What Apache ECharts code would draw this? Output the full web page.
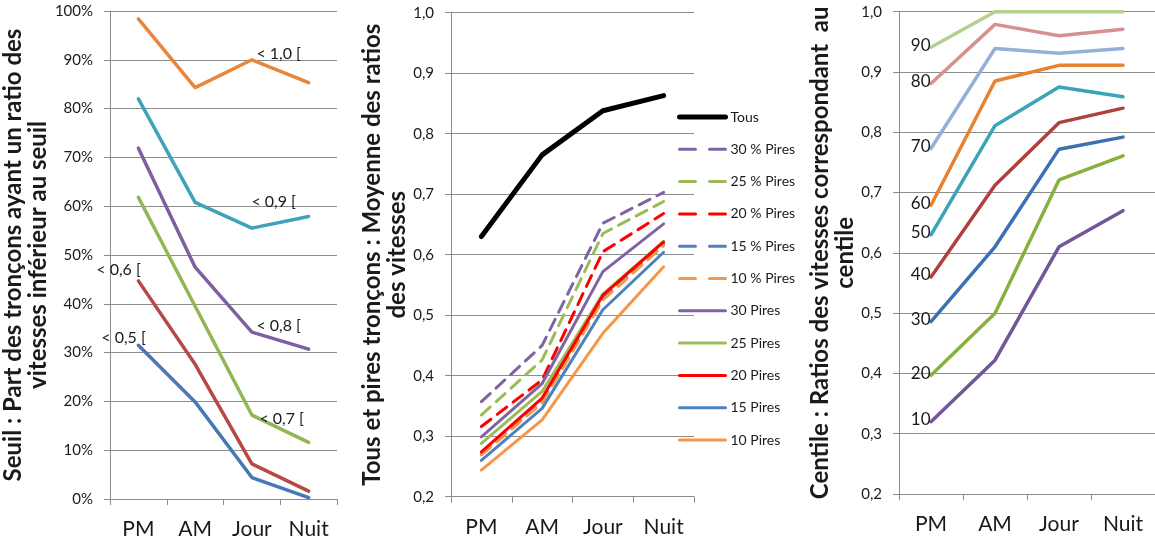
<!DOCTYPE html>
<html>
<head>
<meta charset="utf-8">
<script src="https://cdn.jsdelivr.net/npm/echarts@6/dist/echarts.min.js"></script>
<style>
  html, body { margin: 0; background: #fff; }
  #chart { width: 1155px; height: 543px; }
</style>
</head>
<body>
<div id="chart"></div>
<script>
const periods = ['PM', 'AM', 'Jour', 'Nuit']

// gauche : part des tronçons sous le seuil (%)
const seuil10 = [98.4, 84.3, 90.0, 85.3]
const seuil09 = [82.0, 60.8, 55.5, 57.9]
const seuil08 = [71.9, 47.5, 34.2, 30.7]
const seuil07 = [61.8, 39.5, 17.2, 11.6]
const seuil06 = [44.7, 27.6, 7.2, 1.6]
const seuil05 = [31.5, 19.9, 4.4, 0.3]

// milieu : moyenne des ratios, tous et pires tronçons
const tous = [0.630, 0.765, 0.838, 0.863]
const pct30 = [0.357, 0.450, 0.652, 0.703]
const pct25 = [0.335, 0.426, 0.635, 0.688]
const pct20 = [0.316, 0.393, 0.605, 0.668]
const pct15 = [0.270, 0.358, 0.528, 0.618]
const pct10 = [0.269, 0.355, 0.525, 0.615]
const pires30 = [0.299, 0.387, 0.572, 0.651]
const pires25 = [0.288, 0.374, 0.535, 0.622]
const pires20 = [0.274, 0.363, 0.533, 0.621]
const pires15 = [0.260, 0.346, 0.509, 0.604]
const pires10 = [0.244, 0.327, 0.470, 0.580]

// droite : ratio correspondant au centile
const c90 = [0.941, 1.0, 1.0, 1.0]
const c80 = [0.881, 0.979, 0.960, 0.971]
const c70 = [0.773, 0.939, 0.931, 0.939]
const c60 = [0.679, 0.885, 0.911, 0.911]
const c50 = [0.630, 0.811, 0.875, 0.859]
const c40 = [0.560, 0.712, 0.816, 0.840]
const c30 = [0.486, 0.610, 0.772, 0.792]
const c20 = [0.397, 0.500, 0.721, 0.761]
const c10 = [0.320, 0.422, 0.610, 0.670]

const FONT = 'Lato, "Open Sans", sans-serif'
const TXT = '#1a1a1a'
const GRID = '#8c8c8c'

const chart = echarts.init(document.getElementById('chart'))

function xAx(gridIndex) {
  return {
    type: 'category', gridIndex, data: periods, boundaryGap: true,
    axisLine: { lineStyle: { color: GRID } },
    axisTick: { show: true, length: 6, lineStyle: { color: GRID } },
    axisLabel: { color: TXT, fontFamily: FONT, fontSize: 21, margin: 20 },
  }
}

function yAx(gridIndex, min, max, fmt, name, nameGap) {
  return {
    type: 'value', gridIndex, min, max, interval: max > 1 ? 10 : 0.1,
    name, nameLocation: 'middle', nameGap,
    nameTextStyle: { color: TXT, fontFamily: FONT, fontSize: 24, fontWeight: 'bold', lineHeight: 25, align: 'center' },
    axisLine: { show: true, lineStyle: { color: GRID } },
    axisTick: { show: true, length: 6, lineStyle: { color: GRID } },
    axisLabel: { color: TXT, fontFamily: FONT, fontSize: 15, margin: 17, formatter: fmt },
    splitLine: { lineStyle: { color: GRID, width: 1 } },
  }
}

const comma = v => v.toFixed(1).replace('.', ',')

function line(name, data, color, idx, width, dashed) {
  return {
    name, type: 'line', data, xAxisIndex: idx, yAxisIndex: idx,
    symbol: 'none',
    lineStyle: { color, width, type: dashed ? [12, 8] : 'solid', cap: 'round' },
    itemStyle: { color },
  }
}

// étiquette sur un seul point de la série
function labelAt(s, i, pos, offset, size) {
  s.data = s.data.map((v, k) => k === i ? {
    value: v, symbol: 'circle', symbolSize: 1,
    label: { show: true, position: pos, offset, distance: 0, formatter: s.name,
      color: TXT, fontFamily: FONT, fontSize: size },
  } : v)
  return s
}

const left = [
  labelAt(line('< 1,0 [', seuil10, '#E8873C', 0, 3.5), 2, 'right', [4, -6], 16),
  labelAt(line('< 0,9 [', seuil09, '#3FA2BA', 0, 3.5), 2, 'right', [-1, -26], 16),
  labelAt(line('< 0,8 [', seuil08, '#7E5F9F', 0, 3.5), 2, 'right', [4, -6], 16),
  labelAt(line('< 0,7 [', seuil07, '#92B655', 0, 3.5), 2, 'right', [7, 4], 16),
  labelAt(line('< 0,6 [', seuil06, '#B84844', 0, 3.5), 0, 'left', [3, -11], 16),
  labelAt(line('< 0,5 [', seuil05, '#4677B6', 0, 3.5), 0, 'left', [8, -7], 16),
]

const middle = [
  line('Tous', tous, '#000000', 1, 5),
  line('30 % Pires', pct30, '#8064A2', 1, 3, true),
  line('25 % Pires', pct25, '#9BBB59', 1, 3, true),
  line('20 % Pires', pct20, '#FF0000', 1, 3, true),
  line('15 % Pires', pct15, '#4F81BD', 1, 3, true),
  line('10 % Pires', pct10, '#F79646', 1, 3, true),
  line('30 Pires', pires30, '#8064A2', 1, 3),
  line('25 Pires', pires25, '#9BBB59', 1, 3),
  line('20 Pires', pires20, '#FF0000', 1, 3),
  line('15 Pires', pires15, '#4F81BD', 1, 3),
  line('10 Pires', pires10, '#F79646', 1, 3),
]

const right = [
  ['90', c90, '#B5CF8F'], ['80', c80, '#D5918F'], ['70', c70, '#94B0D8'],
  ['60', c60, '#E8822E'], ['50', c50, '#3BA3BA'], ['40', c40, '#AF403D'],
  ['30', c30, '#3C70AF'], ['20', c20, '#86B13F'], ['10', c10, '#73559A'],
].map(([n, d, c]) => labelAt(line(n, d, c, 2, 3.5), 0, 'left', [0, -2], 17))

chart.setOption({
  animation: false,
  backgroundColor: '#fff',
  grid: [
    { left: 106, top: 11, width: 231, height: 488 },
    { left: 451, top: 12.7, width: 243, height: 484 },
    { left: 899, top: 11.7, width: 262, height: 482.3 },
  ],
  xAxis: [xAx(0), xAx(1), xAx(2)],
  yAxis: [
    yAx(0, 0, 100, '{value}%', 'Seuil : Part des tronçons ayant un ratio des\nvitesses inférieur au seuil', 50),
    yAx(1, 0.2, 1.0, comma, 'Tous et pires tronçons : Moyenne des ratios\ndes vitesses', 38),
    yAx(2, 0.2, 1.0, comma, 'Centile : Ratios des vitesses correspondant  au\ncentile', 37),
  ],
  legend: {
    // les pointillés de la légende : deux tirets comme dans Excel
    data: middle.map(s => ({
      name: s.name,
      lineStyle: s.lineStyle.type === 'solid' ? {} : { type: [16, 14] },
    })),
    orient: 'vertical', left: 677, top: 110, padding: 0,
    itemWidth: 46, itemHeight: 14, itemGap: 18.3,
    itemStyle: { color: 'transparent', borderWidth: 0, opacity: 0 },
    lineStyle: { width: 'inherit', cap: 'round' },
    textStyle: { color: TXT, fontFamily: FONT, fontSize: 14 },
  },
  series: [...left, ...middle, ...right],
})
</script>
</body>
</html>
